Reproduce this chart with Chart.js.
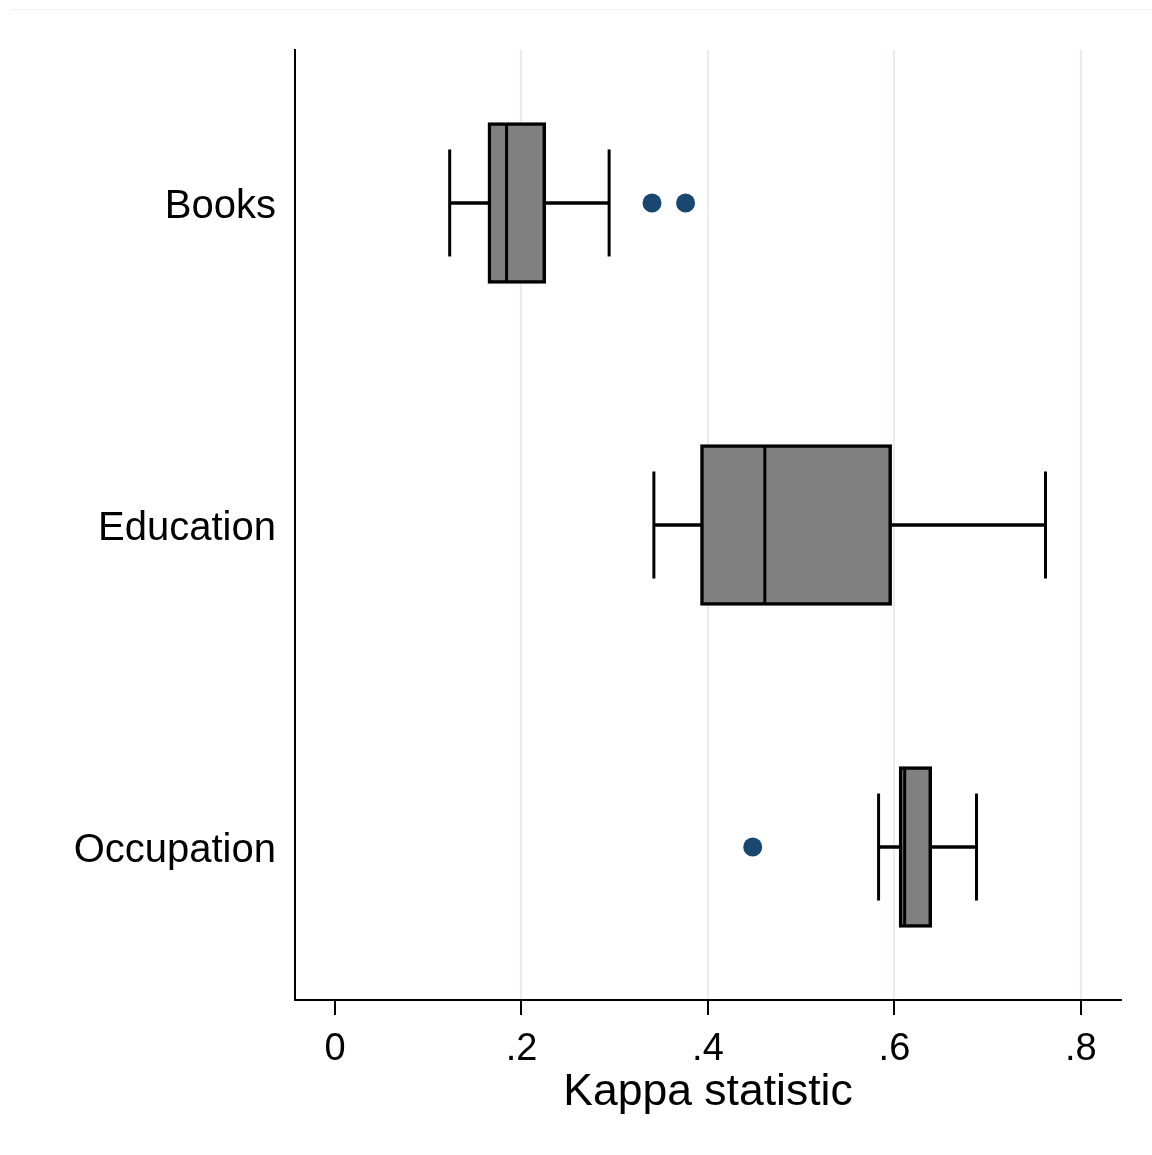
<!DOCTYPE html>
<html>
<head>
<meta charset="utf-8">
<script src="https://cdn.jsdelivr.net/npm/chart.js@4.4.0/dist/chart.umd.min.js"></script>
<style>
  html, body { margin: 0; padding: 0; background: #ffffff; }
  #wrap { position: relative; width: 1152px; height: 1155px; }
  #topline { position: absolute; left: 11px; right: 0; top: 9px; height: 0; border-top: 1px solid #eef1f2; }
  canvas { position: absolute; left: 0; top: 0; }
</style>
</head>
<body>
<div id="wrap">
  <div id="topline"></div>
  <canvas id="c" width="1152" height="1155"></canvas>
</div>
<script>
// ---- data ----
const categories   = ["Books", "Education", "Occupation"];
const whiskerLow   = [0.123, 0.342, 0.583];
const quartile1    = [0.164, 0.392, 0.605];
const medians      = [0.184, 0.461, 0.611];
const quartile3    = [0.226, 0.597, 0.640];
const whiskerHigh  = [0.294, 0.762, 0.688];
const outliers     = [[0.340, 0.376], [], [0.448]];
const xTickValues  = [0, 0.2, 0.4, 0.6, 0.8];
const xTickLabels  = ["0", ".2", ".4", ".6", ".8"];
const xTitle       = "Kappa statistic";

const pos = categories.map((_, i) => i + 1);
const FONT = "'Liberation Sans', Arial, Helvetica, sans-serif";

const boxData = pos.map((p, i) => ({ y: p, x: [quartile1[i], quartile3[i]] }));
const whiskerData = pos.map((p, i) => ({ y: p, x: [whiskerLow[i], whiskerHigh[i]] }));
const capData = [];
pos.forEach((p, i) => { capData.push({ x: whiskerLow[i], y: p }); capData.push({ x: whiskerHigh[i], y: p }); });
const medData = pos.map((p, i) => ({ x: medians[i], y: p }));
const outData = [];
outliers.forEach((arr, i) => arr.forEach(v => outData.push({ x: v, y: pos[i] })));

new Chart(document.getElementById('c'), {
  type: 'bar',
  data: {
    datasets: [
      { type: 'scatter', data: outData, pointStyle: 'circle', radius: 9.5,
        backgroundColor: '#1a476f', borderColor: '#1a476f', borderWidth: 0 },
      { type: 'scatter', data: medData, pointStyle: 'line', rotation: 90, radius: 79,
        borderColor: '#000000', borderWidth: 3 },
      { type: 'bar', data: boxData, grouped: false, barThickness: 161,
        backgroundColor: '#808080', borderColor: '#000000', borderWidth: 3.5, borderSkipped: false },
      { type: 'scatter', data: capData, pointStyle: 'line', rotation: 90, radius: 53.5,
        borderColor: '#000000', borderWidth: 3 },
      { type: 'bar', data: whiskerData, grouped: false, barThickness: 3,
        backgroundColor: '#000000', borderWidth: 0, borderSkipped: false }
    ]
  },
  options: {
    indexAxis: 'y',
    responsive: false,
    animation: false,
    events: [],
    layout: { autoPadding: false, padding: { left: 0, right: 31, top: 50, bottom: 0 } },
    plugins: { legend: { display: false }, tooltip: { enabled: false } },
    scales: {
      x: {
        type: 'linear',
        position: 'bottom',
        offset: false,
        min: -0.0429,
        max: 0.843,
        afterBuildTicks: (s) => { s.ticks = xTickValues.map(v => ({ value: v })); },
        afterFit: (s) => { s.height = 155; },
        ticks: {
          callback: (v) => { const k = xTickValues.findIndex(t => Math.abs(t - v) < 1e-9); return k >= 0 ? xTickLabels[k] : ''; },
          color: '#000000',
          font: { family: FONT, size: 38 },
          padding: 12,
          maxRotation: 0,
          autoSkip: false
        },
        grid: {
          offset: false,
          color: (ctx) => (ctx.tick && Math.abs(ctx.tick.value) < 1e-9) ? 'rgba(0,0,0,0)' : '#e4eef0',
          lineWidth: 2,
          tickColor: '#000000',
          tickWidth: 2,
          tickLength: 15,
          drawTicks: true
        },
        border: { display: true, color: '#000000', width: 2 },
        title: {
          display: true,
          text: xTitle,
          color: '#000000',
          font: { family: FONT, size: 44.5 },
          padding: { top: 0, bottom: 36 }
        }
      },
      y: {
        type: 'linear',
        position: 'left',
        offset: false,
        reverse: true,
        min: 0.525,
        max: 3.475,
        afterBuildTicks: (s) => { s.ticks = pos.map(v => ({ value: v })); },
        afterFit: (s) => { s.width = 295; },
        ticks: {
          callback: (v) => { const k = pos.indexOf(Math.round(v)); return k >= 0 ? categories[k] : ''; },
          color: '#000000',
          font: { family: FONT, size: 40 },
          padding: 19,
          labelOffset: 4,
          autoSkip: false
        },
        grid: { display: false, drawTicks: false, offset: false },
        border: { display: true, color: '#000000', width: 2 }
      }
    }
  }
});
</script>
</body>
</html>
